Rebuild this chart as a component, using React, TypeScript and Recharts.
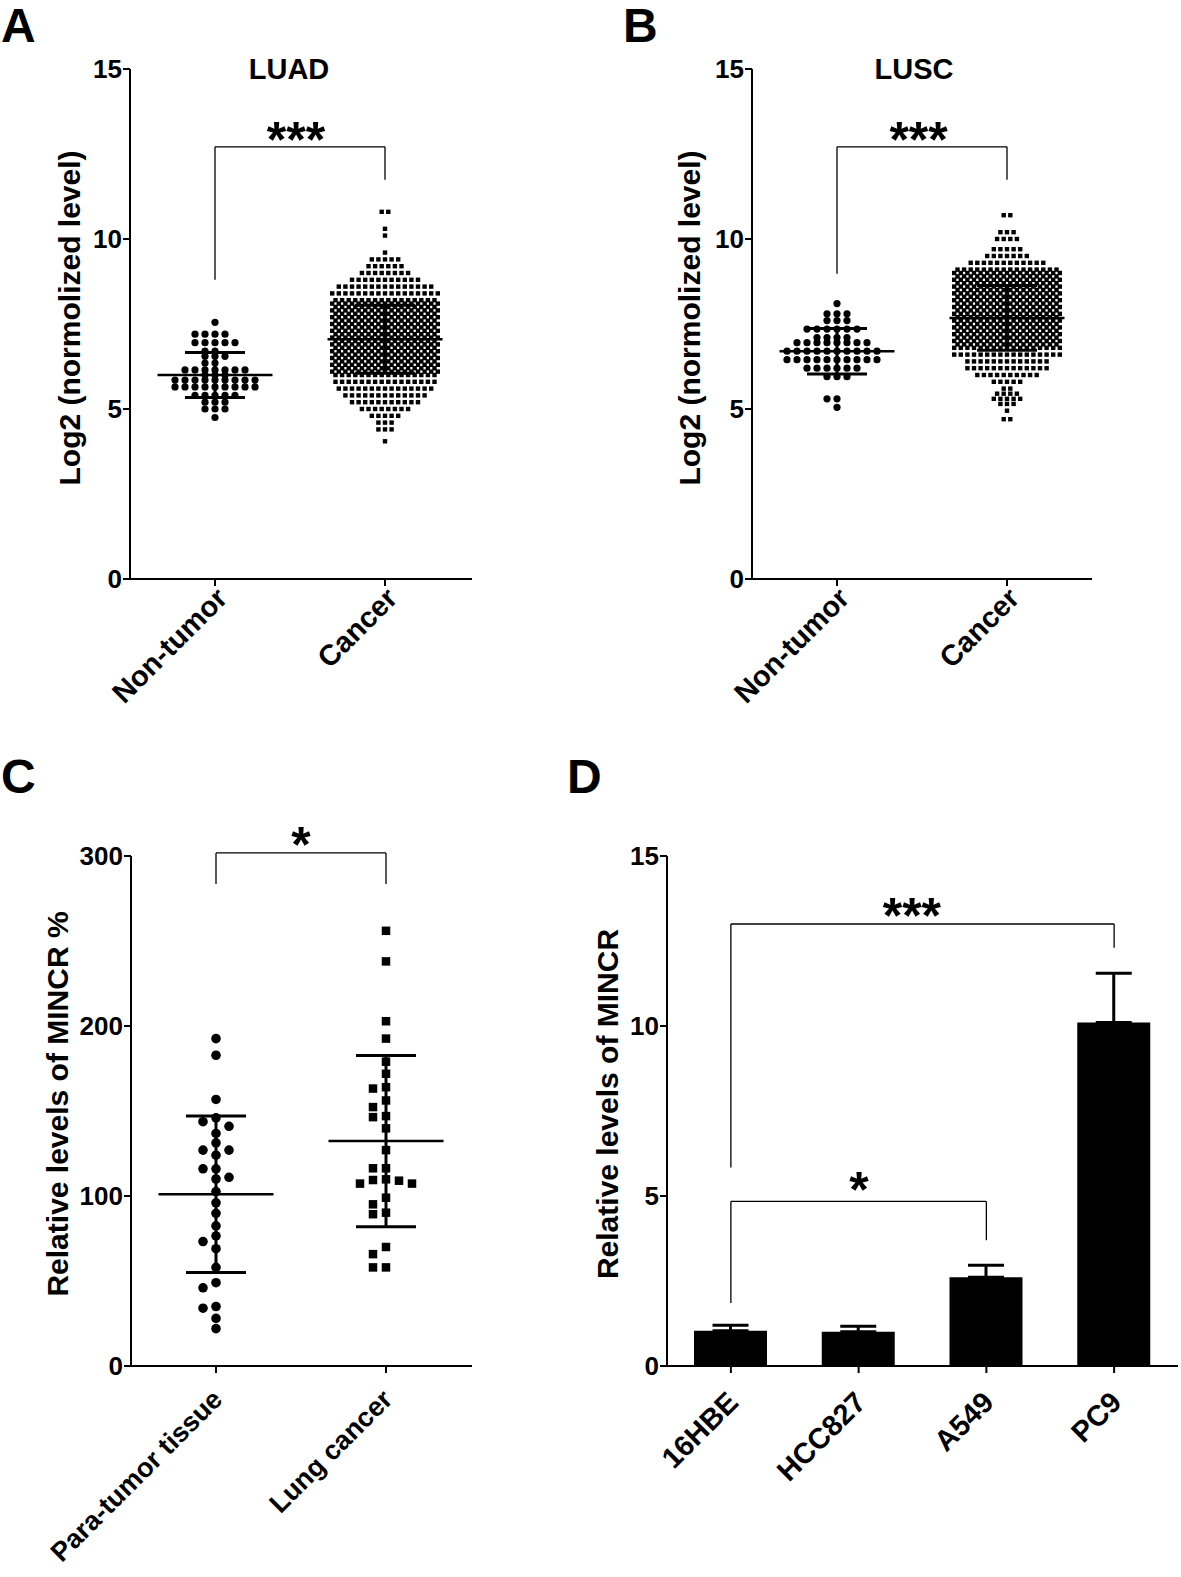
import React from "react";
import {
  ScatterChart,
  Scatter,
  XAxis,
  YAxis,
  ReferenceLine,
  ReferenceDot,
  BarChart,
  Bar,
  ErrorBar,
} from "recharts";

const FONT = '"Liberation Sans", Arial, Helvetica, sans-serif';

// ---- A: LUAD, log2 normalized level. Rows of the dot plot: row value + how many samples ----
const tissueGroups = ["Non-tumor", "Cancer"];
const luadNormalLevels = [7.55, 7.2, 6.95, 6.7, 6.55, 6.35, 6.15, 6.0, 5.85, 5.65, 5.4, 5.2, 5.0, 4.75];
const luadNormalCounts = [1, 4, 5, 2, 3, 2, 7, 3, 9, 9, 5, 3, 3, 1];
const luadCancerLevels = [
  10.8, 10.3, 10.1, 9.6, 9.4, 9.2, 9.0, 8.8, 8.6, 8.4, 8.2, 8.1, 8.0, 7.9, 7.8, 7.7, 7.6, 7.5, 7.4, 7.3,
  7.2, 7.1, 7.0, 6.9, 6.8, 6.7, 6.6, 6.5, 6.4, 6.3, 6.2, 6.1, 6.0, 5.8, 5.6, 5.4, 5.2, 5.0, 4.8, 4.6,
  4.4, 4.05,
];
const luadCancerCounts = [
  2, 1, 1, 1, 5, 6, 8, 11, 15, 17, 16, 17, 16, 17, 16, 17, 16, 17, 16, 17,
  16, 17, 16, 17, 16, 17, 16, 17, 16, 17, 16, 17, 16, 16, 15, 13, 11, 8, 5, 3,
  3, 1,
];
const luadMean = [6.0, 7.05];
const luadSd = [0.66, 1.0];

// ---- B: LUSC ----
const luscNormalLevels = [8.1, 7.8, 7.6, 7.35, 7.1, 6.95, 6.7, 6.45, 6.2, 5.95, 5.3, 5.05];
const luscNormalCounts = [1, 3, 3, 6, 4, 8, 10, 10, 6, 3, 2, 1];
const luscCancerLevels = [
  10.7, 10.2, 10.0, 9.7, 9.5, 9.3, 9.1, 9.0, 8.9, 8.8, 8.7, 8.6, 8.5, 8.4, 8.3, 8.2, 8.1, 8.0, 7.9, 7.8,
  7.7, 7.6, 7.5, 7.4, 7.3, 7.2, 7.1, 7.0, 6.9, 6.8, 6.6, 6.4, 6.2, 6.0, 5.8, 5.6, 5.45, 5.3, 5.15, 4.95,
  4.7,
];
const luscCancerCounts = [
  2, 3, 4, 5, 7, 12, 16, 17, 16, 17, 16, 17, 16, 17, 16, 17, 16, 17, 16, 17,
  16, 17, 16, 17, 16, 17, 16, 17, 16, 17, 17, 13, 13, 10, 5, 2, 4, 5, 3, 1,
  2,
];
const luscMean = [6.7, 7.68];
const luscSd = [0.67, 0.95];

// ---- C: clinical samples, relative MINCR % ----
const sampleGroups = ["Para-tumor tissue", "Lung cancer"];
const paraTumor = [
  192.6, 182.8, 156.8, 146, 143.7, 141, 136.8, 131.3, 127, 127, 124, 116, 116, 110, 111, 102.6, 96,
  89.8, 82.4, 76.5, 73.2, 69, 58, 49, 46, 35, 34, 28, 22,
];
const lungCancer = [
  256, 238, 202.8, 192.6, 179, 171.9, 164, 163.2, 156.2, 152.3, 147, 146.4, 139.8, 127, 116.3, 116.3,
  109.8, 109.4, 109, 107.3, 107.3, 99, 95.1, 90.2, 89.3, 70, 65.8, 58, 58,
];
const clinicalMean = [101, 132.3];
const clinicalSd = [46, 50.4];

// ---- D: cell lines ----
const cellLines = ["16HBE", "HCC827", "A549", "PC9"];
const mincrLevel = [1.04, 1.01, 2.61, 10.1];
const mincrErr = [0.16, 0.16, 0.35, 1.45];

type Pt = { x: number; y: number };

const expand = (levels: number[], counts: number[]) =>
  levels.flatMap((v, i) => Array(counts[i]).fill(v) as number[]);

// big groups: every row is laid out side by side around the group centre
function rowSwarm(levels: number[], counts: number[], center: number, pitch: number): Pt[] {
  const pts: Pt[] = [];
  levels.forEach((v, i) => {
    const n = counts[i];
    for (let j = 0; j < n; j++) pts.push({ x: center + (j - (n - 1) / 2) * pitch, y: v });
  });
  return pts;
}

// small groups: each point takes the nearest column that is free at its height
function columnSwarm(values: number[], center: number, pitch: number, gap: number): Pt[] {
  const cols = new Map<number, number[]>();
  return [...values]
    .sort((a, b) => b - a)
    .map((v) => {
      for (let k = 0; ; k++) {
        const s = k % 2 ? -(k + 1) / 2 : k / 2;
        const used = cols.get(s) || [];
        if (used.every((u) => Math.abs(u - v) >= gap)) {
          used.push(v);
          cols.set(s, used);
          return { x: center + s * pitch, y: v };
        }
      }
    });
}

const dot = (r: number) => (p: any) => <circle cx={p.cx} cy={p.cy} r={r} fill="#000" />;
const square = (s: number) => (p: any) => (
  <rect x={p.cx - s / 2} y={p.cy - s / 2} width={s} height={s} fill="#000" />
);
const stars = (label: string, dx: number, dy: number) => (p: any) => (
  <text x={p.cx + dx} y={p.cy + dy} textAnchor="middle" fontSize={50} fontWeight={700} fontFamily={FONT} fill="#000">
    {label}
  </text>
);

function SlantTick(props: any) {
  const { x, y, payload, labels, dx, dy, size = 29 } = props;
  const label = labels ? labels[Math.round(payload.value - 0.5)] : payload.value;
  const tx = x + dx;
  const ty = y + dy;
  return (
    <text x={tx} y={ty} transform={`rotate(-45 ${tx} ${ty})`} textAnchor="end" fontSize={size} fontWeight={700} fontFamily={FONT} fill="#000">
      {label}
    </text>
  );
}

const tickFont = { fill: "#000", fontSize: 26, fontWeight: 700, fontFamily: FONT };
const axisLine = { stroke: "#000", strokeWidth: 2 };

function seg(x1: number, y1: number, x2: number, y2: number, w: number, key: string) {
  return (
    <ReferenceLine
      key={key}
      segment={[{ x: x1, y: y1 }, { x: x2, y: y2 }]}
      stroke="#000"
      strokeWidth={w}
      ifOverflow="visible"
    />
  );
}

// mean with SD whiskers, GraphPad style
function meanSd(c: number, mean: number, sd: number, unit: number, key: string) {
  const m = 57.5 / unit;
  const h = 30 / unit;
  return [
    seg(c, mean - sd, c, mean + sd, 3, key + "v"),
    seg(c - m, mean, c + m, mean, 2.5, key + "m"),
    seg(c - h, mean + sd, c + h, mean + sd, 3, key + "t"),
    seg(c - h, mean - sd, c + h, mean - sd, 3, key + "b"),
  ];
}

function bracket(x1: number, x2: number, top: number, leftEnd: number, rightEnd: number, key: string) {
  return [
    seg(x1, leftEnd, x1, top, 1.3, key + "l"),
    seg(x1, top, x2, top, 1.3, key + "t"),
    seg(x2, rightEnd, x2, top, 1.3, key + "r"),
  ];
}

type DotPanelProps = {
  left: number;
  top: number;
  width: number;
  height: number;
  plot: { l: number; r: number; t: number; b: number };
  groups: string[];
  yMax: number;
  yTicks: number[];
  series: { pts: Pt[]; shape: (p: any) => React.ReactElement }[];
  means: number[];
  sds: number[];
  brk: [number, number, number, number, number];
  star: { label: string; x: number; dy: number };
  labelShift: [number, number, number];
};

const UNIT = 170; // px between the two group centres

function DotPanel(p: DotPanelProps) {
  const plotW = p.plot.r - p.plot.l;
  return (
    <div style={{ position: "absolute", left: p.left, top: p.top }}>
      <ScatterChart
        width={p.width}
        height={p.height}
        margin={{ top: p.plot.t, right: p.width - p.plot.r, bottom: 0, left: 0 }}
      >
        <XAxis
          type="number"
          dataKey="x"
          domain={[0, plotW / UNIT]}
          allowDataOverflow
          ticks={[0.5, 1.5]}
          interval={0}
          height={p.height - p.plot.b}
          axisLine={axisLine}
          tickLine={axisLine}
          tickSize={7}
          tickMargin={0}
          tick={(t: any) => (
            <SlantTick {...t} labels={p.groups} dx={p.labelShift[0]} dy={p.labelShift[1]} size={p.labelShift[2]} />
          )}
        />
        <YAxis
          type="number"
          dataKey="y"
          domain={[0, p.yMax]}
          allowDataOverflow
          ticks={p.yTicks}
          interval={0}
          width={p.plot.l}
          axisLine={axisLine}
          tickLine={axisLine}
          tickSize={7}
          tickMargin={1}
          tick={tickFont}
        />
        {p.series.map((s, i) => (
          <Scatter key={i} data={s.pts} shape={s.shape} isAnimationActive={false} />
        ))}
        {p.means.flatMap((m, i) => meanSd(i + 0.5, m, p.sds[i], UNIT, "ms" + i))}
        {bracket(p.brk[0], p.brk[1], p.brk[2], p.brk[3], p.brk[4], "br")}
        <ReferenceDot x={p.star.x} y={p.brk[2]} r={0} ifOverflow="visible" shape={stars(p.star.label, 0, p.star.dy)} />
      </ScatterChart>
    </div>
  );
}

function CellLinePanel() {
  const data = cellLines.map((name, i) => ({ name, value: mincrLevel[i], err: [0, mincrErr[i]] }));
  return (
    <div style={{ position: "absolute", left: 590, top: 760 }}>
      <BarChart width={591} height={817} data={data} margin={{ top: 96, right: 3, bottom: 0, left: 0 }}>
        <XAxis
          dataKey="name"
          type="category"
          interval={0}
          height={817 - 606}
          axisLine={axisLine}
          tickLine={axisLine}
          tickSize={7}
          tickMargin={0}
          tick={(t: any) => <SlantTick {...t} dx={9} dy={31} />}
        />
        <YAxis
          type="number"
          domain={[0, 15]}
          allowDataOverflow
          ticks={[0, 5, 10, 15]}
          interval={0}
          width={77}
          axisLine={axisLine}
          tickLine={axisLine}
          tickSize={7}
          tickMargin={1}
          tick={tickFont}
        />
        <Bar dataKey="value" fill="#000" barSize={73} isAnimationActive={false}>
          <ErrorBar dataKey="err" direction="y" width={18} strokeWidth={3} stroke="#000" />
        </Bar>
        {bracket(cellLines[0] as any, cellLines[3] as any, 13.0, 5.84, 12.3, "b1")}
        {bracket(cellLines[0] as any, cellLines[2] as any, 4.84, 1.85, 3.7, "b2")}
        <ReferenceDot x={cellLines[0]} y={13.0} r={0} ifOverflow="visible" shape={stars("***", 181, 9)} />
        <ReferenceDot x={cellLines[0]} y={4.84} r={0} ifOverflow="visible" shape={stars("*", 128, 6)} />
      </BarChart>
    </div>
  );
}

function Labels() {
  const t = { fontFamily: FONT, fontWeight: 700, fill: "#000" } as const;
  const ylab = (x: number, y: number, s: string) => (
    <text x={x} y={y} transform={`rotate(-90 ${x} ${y})`} textAnchor="middle" fontSize={30} {...t}>
      {s}
    </text>
  );
  return (
    <svg width={1181} height={1577} style={{ position: "absolute", left: 0, top: 0, pointerEvents: "none" }}>
      <text x={1} y={42} fontSize={48} {...t}>A</text>
      <text x={623} y={42} fontSize={48} {...t}>B</text>
      <text x={1} y={793} fontSize={48} {...t}>C</text>
      <text x={567} y={793} fontSize={48} {...t}>D</text>
      <text x={289} y={79} fontSize={29} textAnchor="middle" {...t}>LUAD</text>
      <text x={914} y={79} fontSize={29} textAnchor="middle" {...t}>LUSC</text>
      {ylab(80, 318, "Log2 (normolized level)")}
      {ylab(700, 318, "Log2 (normolized level)")}
      {ylab(68, 1104, "Relative levels of MINCR %")}
      {ylab(618, 1104, "Relative levels of MINCR")}
    </svg>
  );
}

export default function App() {
  const nPitch = 10 / UNIT;
  const cPitch = 6.6 / UNIT;
  const yUnit = 34; // px per log2 unit in A and B
  return (
    <div style={{ position: "relative", width: 1181, height: 1577, background: "#fff" }}>
      <style>{"body{margin:0}"}</style>
      <DotPanel
        left={0}
        top={0}
        width={590}
        height={760}
        plot={{ l: 130, r: 472, t: 69, b: 579 }}
        groups={tissueGroups}
        yMax={15}
        yTicks={[0, 5, 10, 15]}
        series={[
          { pts: columnSwarm(expand(luadNormalLevels, luadNormalCounts), 0.5, nPitch, 5 / yUnit), shape: dot(3.6) },
          { pts: rowSwarm(luadCancerLevels, luadCancerCounts, 1.5, cPitch), shape: square(4.4) },
        ]}
        means={luadMean}
        sds={luadSd}
        brk={[0.5, 1.5, 12.71, 8.8, 11.74]}
        star={{ label: "***", x: 0.976, dy: 10 }}
        labelShift={[14, 14, 29]}
      />
      <DotPanel
        left={590}
        top={0}
        width={591}
        height={760}
        plot={{ l: 162, r: 502, t: 69, b: 579 }}
        groups={tissueGroups}
        yMax={15}
        yTicks={[0, 5, 10, 15]}
        series={[
          { pts: columnSwarm(expand(luscNormalLevels, luscNormalCounts), 0.5, nPitch, 5 / yUnit), shape: dot(3.6) },
          { pts: rowSwarm(luscCancerLevels, luscCancerCounts, 1.5, cPitch), shape: square(4.4) },
        ]}
        means={luscMean}
        sds={luscSd}
        brk={[0.5, 1.5, 12.71, 8.98, 11.74]}
        star={{ label: "***", x: 0.98, dy: 10 }}
        labelShift={[14, 14, 29]}
      />
      <DotPanel
        left={0}
        top={760}
        width={590}
        height={817}
        plot={{ l: 131, r: 472, t: 96, b: 606 }}
        groups={sampleGroups}
        yMax={300}
        yTicks={[0, 100, 200, 300]}
        series={[
          { pts: columnSwarm(paraTumor, 0.5, 13 / UNIT, 9 / 1.7), shape: dot(4.8) },
          { pts: columnSwarm(lungCancer, 1.5, 13 / UNIT, 9 / 1.7), shape: square(8.5) },
        ]}
        means={clinicalMean}
        sds={clinicalSd}
        brk={[0.5, 1.5, 301.8, 283.6, 283.6]}
        star={{ label: "*", x: 1.0, dy: 9 }}
        labelShift={[8, 28, 27]}
      />
      <CellLinePanel />
      <Labels />
    </div>
  );
}
